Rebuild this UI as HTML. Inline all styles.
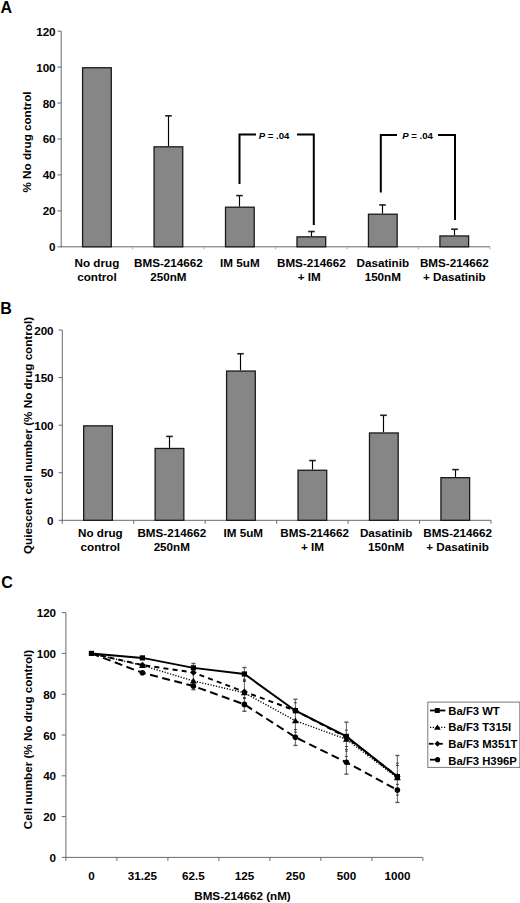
<!DOCTYPE html>
<html><head><meta charset="utf-8"><style>
html,body{margin:0;padding:0;background:#fff;}
body{width:520px;height:903px;overflow:hidden;}
svg{display:block;font-family:"Liberation Sans", sans-serif;}
</style></head><body>
<svg width="520" height="903" viewBox="0 0 520 903">
<rect width="520" height="903" fill="#fff"/>
<text transform="translate(0.50,12.70) scale(1.0,1)" text-anchor="start" font-size="16" font-weight="bold" >A</text>
<text transform="translate(0.30,314.00) scale(1.0,1)" text-anchor="start" font-size="16" font-weight="bold" >B</text>
<text transform="translate(1.20,588.00) scale(1.0,1)" text-anchor="start" font-size="16" font-weight="bold" >C</text>
<line x1="61.20" y1="31.16" x2="61.20" y2="247.30" stroke="#6a6a6a" stroke-width="1" />
<line x1="60.70" y1="246.80" x2="490.00" y2="246.80" stroke="#6a6a6a" stroke-width="1" />
<line x1="57.50" y1="246.80" x2="61.20" y2="246.80" stroke="#6a6a6a" stroke-width="1" />
<text transform="translate(55.60,251.30) scale(1.08,1)" text-anchor="end" font-size="10.8" font-weight="bold" >0</text>
<line x1="57.50" y1="210.86" x2="61.20" y2="210.86" stroke="#6a6a6a" stroke-width="1" />
<text transform="translate(55.60,215.36) scale(1.08,1)" text-anchor="end" font-size="10.8" font-weight="bold" >20</text>
<line x1="57.50" y1="174.92" x2="61.20" y2="174.92" stroke="#6a6a6a" stroke-width="1" />
<text transform="translate(55.60,179.42) scale(1.08,1)" text-anchor="end" font-size="10.8" font-weight="bold" >40</text>
<line x1="57.50" y1="138.98" x2="61.20" y2="138.98" stroke="#6a6a6a" stroke-width="1" />
<text transform="translate(55.60,143.48) scale(1.08,1)" text-anchor="end" font-size="10.8" font-weight="bold" >60</text>
<line x1="57.50" y1="103.04" x2="61.20" y2="103.04" stroke="#6a6a6a" stroke-width="1" />
<text transform="translate(55.60,107.54) scale(1.08,1)" text-anchor="end" font-size="10.8" font-weight="bold" >80</text>
<line x1="57.50" y1="67.10" x2="61.20" y2="67.10" stroke="#6a6a6a" stroke-width="1" />
<text transform="translate(55.60,71.60) scale(1.08,1)" text-anchor="end" font-size="10.8" font-weight="bold" >100</text>
<line x1="57.50" y1="31.16" x2="61.20" y2="31.16" stroke="#6a6a6a" stroke-width="1" />
<text transform="translate(55.60,35.66) scale(1.08,1)" text-anchor="end" font-size="10.8" font-weight="bold" >120</text>
<line x1="132.67" y1="246.80" x2="132.67" y2="249.30" stroke="#aaa" stroke-width="1" />
<line x1="204.13" y1="246.80" x2="204.13" y2="249.30" stroke="#aaa" stroke-width="1" />
<line x1="275.60" y1="246.80" x2="275.60" y2="249.30" stroke="#aaa" stroke-width="1" />
<line x1="347.07" y1="246.80" x2="347.07" y2="249.30" stroke="#aaa" stroke-width="1" />
<line x1="418.53" y1="246.80" x2="418.53" y2="249.30" stroke="#aaa" stroke-width="1" />
<line x1="490.00" y1="246.80" x2="490.00" y2="249.30" stroke="#aaa" stroke-width="1" />
<rect x="82.58" y="67.75" width="28.70" height="179.05" fill="#868686" stroke="#1a1a1a" stroke-width="1.3"/>
<line x1="168.50" y1="146.17" x2="168.50" y2="115.80" stroke="#000" stroke-width="1.15" />
<line x1="165.20" y1="115.80" x2="171.80" y2="115.80" stroke="#222" stroke-width="1.6" />
<rect x="154.05" y="146.82" width="28.70" height="99.98" fill="#868686" stroke="#1a1a1a" stroke-width="1.3"/>
<line x1="239.50" y1="206.55" x2="239.50" y2="195.59" stroke="#000" stroke-width="1.15" />
<line x1="236.20" y1="195.59" x2="242.80" y2="195.59" stroke="#222" stroke-width="1.6" />
<rect x="225.52" y="207.20" width="28.70" height="39.60" fill="#868686" stroke="#1a1a1a" stroke-width="1.3"/>
<line x1="311.50" y1="236.20" x2="311.50" y2="231.53" stroke="#000" stroke-width="1.15" />
<line x1="308.20" y1="231.53" x2="314.80" y2="231.53" stroke="#222" stroke-width="1.6" />
<rect x="296.98" y="236.85" width="28.70" height="9.95" fill="#868686" stroke="#1a1a1a" stroke-width="1.3"/>
<line x1="382.50" y1="213.56" x2="382.50" y2="204.93" stroke="#000" stroke-width="1.15" />
<line x1="379.20" y1="204.93" x2="385.80" y2="204.93" stroke="#222" stroke-width="1.6" />
<rect x="368.45" y="214.21" width="28.70" height="32.59" fill="#868686" stroke="#1a1a1a" stroke-width="1.3"/>
<line x1="454.50" y1="235.30" x2="454.50" y2="229.19" stroke="#000" stroke-width="1.15" />
<line x1="451.20" y1="229.19" x2="457.80" y2="229.19" stroke="#222" stroke-width="1.6" />
<rect x="439.92" y="235.95" width="28.70" height="10.85" fill="#868686" stroke="#1a1a1a" stroke-width="1.3"/>
<text transform="translate(96.93,266.60) scale(1.08,1)" text-anchor="middle" font-size="10.8" font-weight="bold" >No drug</text>
<text transform="translate(96.93,280.80) scale(1.08,1)" text-anchor="middle" font-size="10.8" font-weight="bold" >control</text>
<text transform="translate(168.40,266.60) scale(1.08,1)" text-anchor="middle" font-size="10.8" font-weight="bold" >BMS-214662</text>
<text transform="translate(168.40,280.80) scale(1.08,1)" text-anchor="middle" font-size="10.8" font-weight="bold" >250nM</text>
<text transform="translate(239.87,266.60) scale(1.08,1)" text-anchor="middle" font-size="10.8" font-weight="bold" >IM 5uM</text>
<text transform="translate(239.87,280.80) scale(1.08,1)" text-anchor="middle" font-size="10.8" font-weight="bold" ></text>
<text transform="translate(311.33,266.60) scale(1.08,1)" text-anchor="middle" font-size="10.8" font-weight="bold" >BMS-214662</text>
<text transform="translate(309.23,280.80) scale(1.08,1)" text-anchor="middle" font-size="10.8" font-weight="bold" >+ IM</text>
<text transform="translate(382.80,266.60) scale(1.08,1)" text-anchor="middle" font-size="10.8" font-weight="bold" >Dasatinib</text>
<text transform="translate(382.80,280.80) scale(1.08,1)" text-anchor="middle" font-size="10.8" font-weight="bold" >150nM</text>
<text transform="translate(454.27,266.60) scale(1.08,1)" text-anchor="middle" font-size="10.8" font-weight="bold" >BMS-214662</text>
<text transform="translate(454.27,280.80) scale(1.08,1)" text-anchor="middle" font-size="10.8" font-weight="bold" >+ Dasatinib</text>
<text transform="translate(30.70,142.00) rotate(-90) scale(1.08,1)" text-anchor="middle" font-size="10.8" font-weight="bold">% No drug control</text>
<polyline points="239.5,184 239.5,134.5 256,134.5" fill="none" stroke="#000" stroke-width="2"/>
<polyline points="297,134.5 313.8,134.5 313.8,225" fill="none" stroke="#000" stroke-width="2"/>
<text x="274.00" y="138.60" text-anchor="middle" font-size="9.6" font-weight="bold"><tspan font-style="italic">P</tspan> = .04</text>
<polyline points="380.8,192.5 380.8,135 397,135" fill="none" stroke="#000" stroke-width="2"/>
<polyline points="438,135 455,135 455,220" fill="none" stroke="#000" stroke-width="2"/>
<text x="417.50" y="139.10" text-anchor="middle" font-size="9.6" font-weight="bold"><tspan font-style="italic">P</tspan> = .04</text>
<line x1="62.30" y1="330.06" x2="62.30" y2="520.80" stroke="#6a6a6a" stroke-width="1" />
<line x1="61.80" y1="520.30" x2="491.00" y2="520.30" stroke="#6a6a6a" stroke-width="1" />
<line x1="58.60" y1="520.30" x2="62.30" y2="520.30" stroke="#6a6a6a" stroke-width="1" />
<text transform="translate(53.60,524.80) scale(1.08,1)" text-anchor="end" font-size="10.8" font-weight="bold" >0</text>
<line x1="58.60" y1="472.74" x2="62.30" y2="472.74" stroke="#6a6a6a" stroke-width="1" />
<text transform="translate(53.60,477.24) scale(1.08,1)" text-anchor="end" font-size="10.8" font-weight="bold" >50</text>
<line x1="58.60" y1="425.18" x2="62.30" y2="425.18" stroke="#6a6a6a" stroke-width="1" />
<text transform="translate(53.60,429.68) scale(1.08,1)" text-anchor="end" font-size="10.8" font-weight="bold" >100</text>
<line x1="58.60" y1="377.62" x2="62.30" y2="377.62" stroke="#6a6a6a" stroke-width="1" />
<text transform="translate(53.60,382.12) scale(1.08,1)" text-anchor="end" font-size="10.8" font-weight="bold" >150</text>
<line x1="58.60" y1="330.06" x2="62.30" y2="330.06" stroke="#6a6a6a" stroke-width="1" />
<text transform="translate(53.60,334.56) scale(1.08,1)" text-anchor="end" font-size="10.8" font-weight="bold" >200</text>
<line x1="62.30" y1="520.30" x2="62.30" y2="523.80" stroke="#6a6a6a" stroke-width="1" />
<line x1="133.75" y1="520.30" x2="133.75" y2="523.80" stroke="#6a6a6a" stroke-width="1" />
<line x1="205.20" y1="520.30" x2="205.20" y2="523.80" stroke="#6a6a6a" stroke-width="1" />
<line x1="276.65" y1="520.30" x2="276.65" y2="523.80" stroke="#6a6a6a" stroke-width="1" />
<line x1="348.10" y1="520.30" x2="348.10" y2="523.80" stroke="#6a6a6a" stroke-width="1" />
<line x1="419.55" y1="520.30" x2="419.55" y2="523.80" stroke="#6a6a6a" stroke-width="1" />
<line x1="491.00" y1="520.30" x2="491.00" y2="523.80" stroke="#6a6a6a" stroke-width="1" />
<rect x="83.68" y="425.83" width="28.70" height="94.47" fill="#868686" stroke="#1a1a1a" stroke-width="1.3"/>
<line x1="169.50" y1="447.82" x2="169.50" y2="436.40" stroke="#000" stroke-width="1.15" />
<line x1="166.20" y1="436.40" x2="172.80" y2="436.40" stroke="#222" stroke-width="1.6" />
<rect x="155.13" y="448.47" width="28.70" height="71.83" fill="#868686" stroke="#1a1a1a" stroke-width="1.3"/>
<line x1="240.50" y1="370.39" x2="240.50" y2="353.74" stroke="#000" stroke-width="1.15" />
<line x1="237.20" y1="353.74" x2="243.80" y2="353.74" stroke="#222" stroke-width="1.6" />
<rect x="226.58" y="371.04" width="28.70" height="149.26" fill="#868686" stroke="#1a1a1a" stroke-width="1.3"/>
<line x1="312.50" y1="469.60" x2="312.50" y2="460.56" stroke="#000" stroke-width="1.15" />
<line x1="309.20" y1="460.56" x2="315.80" y2="460.56" stroke="#222" stroke-width="1.6" />
<rect x="298.02" y="470.25" width="28.70" height="50.05" fill="#868686" stroke="#1a1a1a" stroke-width="1.3"/>
<line x1="383.50" y1="432.31" x2="383.50" y2="415.29" stroke="#000" stroke-width="1.15" />
<line x1="380.20" y1="415.29" x2="386.80" y2="415.29" stroke="#222" stroke-width="1.6" />
<rect x="369.48" y="432.96" width="28.70" height="87.34" fill="#868686" stroke="#1a1a1a" stroke-width="1.3"/>
<line x1="455.50" y1="477.02" x2="455.50" y2="469.60" stroke="#000" stroke-width="1.15" />
<line x1="452.20" y1="469.60" x2="458.80" y2="469.60" stroke="#222" stroke-width="1.6" />
<rect x="440.93" y="477.67" width="28.70" height="42.63" fill="#868686" stroke="#1a1a1a" stroke-width="1.3"/>
<text transform="translate(100.33,537.40) scale(1.08,1)" text-anchor="middle" font-size="10.8" font-weight="bold" >No drug</text>
<text transform="translate(100.33,550.90) scale(1.08,1)" text-anchor="middle" font-size="10.8" font-weight="bold" >control</text>
<text transform="translate(171.78,537.40) scale(1.08,1)" text-anchor="middle" font-size="10.8" font-weight="bold" >BMS-214662</text>
<text transform="translate(171.78,550.90) scale(1.08,1)" text-anchor="middle" font-size="10.8" font-weight="bold" >250nM</text>
<text transform="translate(243.23,537.40) scale(1.08,1)" text-anchor="middle" font-size="10.8" font-weight="bold" >IM 5uM</text>
<text transform="translate(243.23,550.90) scale(1.08,1)" text-anchor="middle" font-size="10.8" font-weight="bold" ></text>
<text transform="translate(314.68,537.40) scale(1.08,1)" text-anchor="middle" font-size="10.8" font-weight="bold" >BMS-214662</text>
<text transform="translate(312.57,550.90) scale(1.08,1)" text-anchor="middle" font-size="10.8" font-weight="bold" >+ IM</text>
<text transform="translate(386.13,537.40) scale(1.08,1)" text-anchor="middle" font-size="10.8" font-weight="bold" >Dasatinib</text>
<text transform="translate(386.13,550.90) scale(1.08,1)" text-anchor="middle" font-size="10.8" font-weight="bold" >150nM</text>
<text transform="translate(457.58,537.40) scale(1.08,1)" text-anchor="middle" font-size="10.8" font-weight="bold" >BMS-214662</text>
<text transform="translate(457.58,550.90) scale(1.08,1)" text-anchor="middle" font-size="10.8" font-weight="bold" >+ Dasatinib</text>
<text transform="translate(32.10,435.50) rotate(-90) scale(1.08,1)" text-anchor="middle" font-size="10.8" font-weight="bold">Quiescent cell number (% No drug control)</text>
<line x1="65.90" y1="612.60" x2="65.90" y2="857.90" stroke="#6a6a6a" stroke-width="1" />
<line x1="65.40" y1="857.40" x2="422.90" y2="857.40" stroke="#6a6a6a" stroke-width="1" />
<line x1="61.70" y1="857.40" x2="65.90" y2="857.40" stroke="#6a6a6a" stroke-width="1" />
<text transform="translate(56.10,861.90) scale(1.08,1)" text-anchor="end" font-size="10.8" font-weight="bold" >0</text>
<line x1="61.70" y1="816.60" x2="65.90" y2="816.60" stroke="#6a6a6a" stroke-width="1" />
<text transform="translate(56.10,821.10) scale(1.08,1)" text-anchor="end" font-size="10.8" font-weight="bold" >20</text>
<line x1="61.70" y1="775.80" x2="65.90" y2="775.80" stroke="#6a6a6a" stroke-width="1" />
<text transform="translate(56.10,780.30) scale(1.08,1)" text-anchor="end" font-size="10.8" font-weight="bold" >40</text>
<line x1="61.70" y1="735.00" x2="65.90" y2="735.00" stroke="#6a6a6a" stroke-width="1" />
<text transform="translate(56.10,739.50) scale(1.08,1)" text-anchor="end" font-size="10.8" font-weight="bold" >60</text>
<line x1="61.70" y1="694.20" x2="65.90" y2="694.20" stroke="#6a6a6a" stroke-width="1" />
<text transform="translate(56.10,698.70) scale(1.08,1)" text-anchor="end" font-size="10.8" font-weight="bold" >80</text>
<line x1="61.70" y1="653.40" x2="65.90" y2="653.40" stroke="#6a6a6a" stroke-width="1" />
<text transform="translate(56.10,657.90) scale(1.08,1)" text-anchor="end" font-size="10.8" font-weight="bold" >100</text>
<line x1="61.70" y1="612.60" x2="65.90" y2="612.60" stroke="#6a6a6a" stroke-width="1" />
<text transform="translate(56.10,617.10) scale(1.08,1)" text-anchor="end" font-size="10.8" font-weight="bold" >120</text>
<line x1="65.90" y1="857.40" x2="65.90" y2="860.90" stroke="#6a6a6a" stroke-width="1" />
<line x1="116.90" y1="857.40" x2="116.90" y2="860.90" stroke="#6a6a6a" stroke-width="1" />
<line x1="167.90" y1="857.40" x2="167.90" y2="860.90" stroke="#6a6a6a" stroke-width="1" />
<line x1="218.90" y1="857.40" x2="218.90" y2="860.90" stroke="#6a6a6a" stroke-width="1" />
<line x1="269.90" y1="857.40" x2="269.90" y2="860.90" stroke="#6a6a6a" stroke-width="1" />
<line x1="320.90" y1="857.40" x2="320.90" y2="860.90" stroke="#6a6a6a" stroke-width="1" />
<line x1="371.90" y1="857.40" x2="371.90" y2="860.90" stroke="#6a6a6a" stroke-width="1" />
<line x1="422.90" y1="857.40" x2="422.90" y2="860.90" stroke="#6a6a6a" stroke-width="1" />
<text transform="translate(91.40,879.90) scale(1.08,1)" text-anchor="middle" font-size="10.8" font-weight="bold" >0</text>
<text transform="translate(142.40,879.90) scale(1.08,1)" text-anchor="middle" font-size="10.8" font-weight="bold" >31.25</text>
<text transform="translate(193.40,879.90) scale(1.08,1)" text-anchor="middle" font-size="10.8" font-weight="bold" >62.5</text>
<text transform="translate(244.40,879.90) scale(1.08,1)" text-anchor="middle" font-size="10.8" font-weight="bold" >125</text>
<text transform="translate(295.40,879.90) scale(1.08,1)" text-anchor="middle" font-size="10.8" font-weight="bold" >250</text>
<text transform="translate(346.40,879.90) scale(1.08,1)" text-anchor="middle" font-size="10.8" font-weight="bold" >500</text>
<text transform="translate(397.40,879.90) scale(1.08,1)" text-anchor="middle" font-size="10.8" font-weight="bold" >1000</text>
<text transform="translate(242.50,899.50) scale(1.08,1)" text-anchor="middle" font-size="10.8" font-weight="bold" >BMS-214662 (nM)</text>
<text transform="translate(31.7,739.5) rotate(-90) scale(1.08,1)" text-anchor="middle" font-size="10.8" font-weight="bold">Cell number (% No drug control)</text>
<line x1="193.40" y1="663.50" x2="193.40" y2="689.70" stroke="#707070" stroke-width="1.1" />
<line x1="191.40" y1="663.50" x2="195.40" y2="663.50" stroke="#555" stroke-width="1.4" />
<line x1="191.40" y1="689.70" x2="195.40" y2="689.70" stroke="#555" stroke-width="1.4" />
<line x1="244.40" y1="667.50" x2="244.40" y2="711.30" stroke="#707070" stroke-width="1.1" />
<line x1="242.40" y1="667.50" x2="246.40" y2="667.50" stroke="#555" stroke-width="1.4" />
<line x1="242.40" y1="711.30" x2="246.40" y2="711.30" stroke="#555" stroke-width="1.4" />
<line x1="243.00" y1="679.30" x2="245.80" y2="679.30" stroke="#333" stroke-width="1.0" />
<line x1="243.00" y1="680.40" x2="245.80" y2="680.40" stroke="#333" stroke-width="1.0" />
<line x1="243.00" y1="681.50" x2="245.80" y2="681.50" stroke="#333" stroke-width="1.0" />
<line x1="243.00" y1="697.60" x2="245.80" y2="697.60" stroke="#333" stroke-width="1.0" />
<line x1="243.00" y1="698.60" x2="245.80" y2="698.60" stroke="#333" stroke-width="1.0" />
<line x1="295.40" y1="699.30" x2="295.40" y2="745.40" stroke="#707070" stroke-width="1.1" />
<line x1="293.40" y1="699.30" x2="297.40" y2="699.30" stroke="#555" stroke-width="1.4" />
<line x1="293.40" y1="745.40" x2="297.40" y2="745.40" stroke="#555" stroke-width="1.4" />
<line x1="294.00" y1="702.80" x2="296.80" y2="702.80" stroke="#333" stroke-width="1.0" />
<line x1="294.00" y1="729.50" x2="296.80" y2="729.50" stroke="#333" stroke-width="1.0" />
<line x1="294.00" y1="732.00" x2="296.80" y2="732.00" stroke="#333" stroke-width="1.0" />
<line x1="346.40" y1="722.20" x2="346.40" y2="774.10" stroke="#707070" stroke-width="1.1" />
<line x1="344.40" y1="722.20" x2="348.40" y2="722.20" stroke="#555" stroke-width="1.4" />
<line x1="344.40" y1="774.10" x2="348.40" y2="774.10" stroke="#555" stroke-width="1.4" />
<line x1="345.00" y1="730.20" x2="347.80" y2="730.20" stroke="#333" stroke-width="1.0" />
<line x1="345.00" y1="746.50" x2="347.80" y2="746.50" stroke="#333" stroke-width="1.0" />
<line x1="345.00" y1="749.30" x2="347.80" y2="749.30" stroke="#333" stroke-width="1.0" />
<line x1="345.00" y1="751.10" x2="347.80" y2="751.10" stroke="#333" stroke-width="1.0" />
<line x1="345.00" y1="756.40" x2="347.80" y2="756.40" stroke="#333" stroke-width="1.0" />
<line x1="397.40" y1="755.50" x2="397.40" y2="802.40" stroke="#707070" stroke-width="1.1" />
<line x1="395.40" y1="755.50" x2="399.40" y2="755.50" stroke="#555" stroke-width="1.4" />
<line x1="395.40" y1="802.40" x2="399.40" y2="802.40" stroke="#555" stroke-width="1.4" />
<line x1="396.00" y1="763.20" x2="398.80" y2="763.20" stroke="#333" stroke-width="1.0" />
<line x1="396.00" y1="765.40" x2="398.80" y2="765.40" stroke="#333" stroke-width="1.0" />
<line x1="396.00" y1="784.40" x2="398.80" y2="784.40" stroke="#333" stroke-width="1.0" />
<line x1="396.00" y1="795.00" x2="398.80" y2="795.00" stroke="#333" stroke-width="1.0" />
<polyline points="91.40,653.40 142.40,657.89 193.40,667.88 244.40,674.00 295.40,710.72 346.40,736.43 397.40,776.62" fill="none" stroke="#000" stroke-width="2"/>
<polyline points="91.40,653.40 142.40,665.44 193.40,680.94 244.40,692.77 295.40,720.72 346.40,739.28 397.40,777.84" fill="none" stroke="#000" stroke-width="1.4" stroke-dasharray="1.2,1.6"/>
<polyline points="91.40,653.40 142.40,665.03 193.40,672.58 244.40,691.75 295.40,710.52 346.40,737.24 397.40,776.41" fill="none" stroke="#000" stroke-width="2" stroke-dasharray="5,4.2"/>
<polyline points="91.40,653.40 142.40,672.78 193.40,686.04 244.40,704.40 295.40,737.24 346.40,762.34 397.40,790.08" fill="none" stroke="#000" stroke-width="2" stroke-dasharray="8,4.5"/>
<circle cx="142.40" cy="672.78" r="2.80" fill="#000"/>
<circle cx="193.40" cy="686.04" r="2.80" fill="#000"/>
<circle cx="244.40" cy="704.40" r="2.80" fill="#000"/>
<circle cx="295.40" cy="737.24" r="2.80" fill="#000"/>
<circle cx="346.40" cy="762.34" r="2.80" fill="#000"/>
<circle cx="397.40" cy="790.08" r="2.80" fill="#000"/>
<polygon points="142.40,661.83 145.60,665.03 142.40,668.23 139.20,665.03" fill="#000"/>
<polygon points="193.40,669.38 196.60,672.58 193.40,675.78 190.20,672.58" fill="#000"/>
<polygon points="244.40,688.55 247.60,691.75 244.40,694.95 241.20,691.75" fill="#000"/>
<polygon points="295.40,707.32 298.60,710.52 295.40,713.72 292.20,710.52" fill="#000"/>
<polygon points="346.40,734.04 349.60,737.24 346.40,740.44 343.20,737.24" fill="#000"/>
<polygon points="397.40,773.21 400.60,776.41 397.40,779.61 394.20,776.41" fill="#000"/>
<polygon points="142.40,662.34 145.90,667.94 138.90,667.94" fill="#000"/>
<polygon points="193.40,677.84 196.90,683.44 189.90,683.44" fill="#000"/>
<polygon points="244.40,689.67 247.90,695.27 240.90,695.27" fill="#000"/>
<polygon points="295.40,717.62 298.90,723.22 291.90,723.22" fill="#000"/>
<polygon points="346.40,736.18 349.90,741.78 342.90,741.78" fill="#000"/>
<polygon points="397.40,774.74 400.90,780.34 393.90,780.34" fill="#000"/>
<rect x="88.80" y="650.80" width="5.20" height="5.20" fill="#000"/>
<rect x="139.80" y="655.29" width="5.20" height="5.20" fill="#000"/>
<rect x="190.80" y="665.28" width="5.20" height="5.20" fill="#000"/>
<rect x="241.80" y="671.40" width="5.20" height="5.20" fill="#000"/>
<rect x="292.80" y="708.12" width="5.20" height="5.20" fill="#000"/>
<rect x="343.80" y="733.83" width="5.20" height="5.20" fill="#000"/>
<rect x="394.80" y="774.02" width="5.20" height="5.20" fill="#000"/>
<rect x="427.8" y="702.1" width="92" height="65.3" fill="#fff" stroke="#7a7a7a" stroke-width="1"/>
<line x1="430.00" y1="710.50" x2="445.30" y2="710.50" stroke="#000" stroke-width="1.8" />
<rect x="434.83" y="708.03" width="4.94" height="4.94" fill="#000"/>
<text transform="translate(448.30,715.10) scale(1.0,1)" text-anchor="start" font-size="11.3" font-weight="bold" >Ba/F3 WT</text>
<line x1="430" y1="727.3" x2="445.3" y2="727.3" stroke="#000" stroke-width="1.3" stroke-dasharray="1.2,1.6"/>
<polygon points="437.40,724.45 440.72,729.77 434.07,729.77" fill="#000"/>
<text transform="translate(448.30,731.30) scale(1.0,1)" text-anchor="start" font-size="11.3" font-weight="bold" >Ba/F3 T315I</text>
<line x1="428.90" y1="743.80" x2="433.50" y2="743.80" stroke="#000" stroke-width="1.8" />
<line x1="440.00" y1="743.80" x2="442.80" y2="743.80" stroke="#000" stroke-width="1.8" />
<polygon points="437.50,740.76 440.54,743.80 437.50,746.84 434.46,743.80" fill="#000"/>
<text transform="translate(448.30,748.30) scale(1.0,1)" text-anchor="start" font-size="11.3" font-weight="bold" >Ba/F3 M351T</text>
<line x1="430.00" y1="759.70" x2="436.00" y2="759.70" stroke="#000" stroke-width="1.8" />
<circle cx="437.60" cy="759.70" r="2.58" fill="#000"/>
<text transform="translate(448.30,764.50) scale(1.0,1)" text-anchor="start" font-size="11.3" font-weight="bold" >Ba/F3 H396P</text>
</svg>
</body></html>
